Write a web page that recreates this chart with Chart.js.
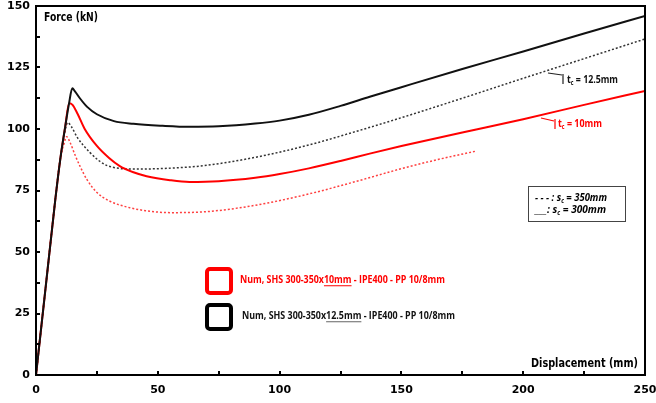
<!DOCTYPE html>
<html>
<head>
<meta charset="utf-8">
<script src="https://cdn.jsdelivr.net/npm/chart.js@4.4.1/dist/chart.umd.min.js"></script>
<style>
  html, body { margin: 0; padding: 0; background: #fff; }
  #wrap { width: 656px; height: 403px; }
</style>
</head>
<body>
<div id="wrap"><canvas id="chart" width="656" height="403"></canvas></div>
<script>
// SHS 300-350x12.5mm, s_c = 300mm (solid black)
var blackSolidX = [0, 4, 8, 10, 12, 13.5, 14.9, 16, 18, 21, 25, 32, 40, 52, 63, 75, 90, 100, 112, 125, 137, 150, 175, 200, 225, 250];
var blackSolidY = [0, 36, 72, 88, 101, 110, 116.6, 115.3, 112.5, 109, 106, 103.2, 102.1, 101.3, 100.9, 101.1, 102.2, 103.4, 105.8, 109.4, 113.1, 117, 124.4, 131.5, 138.8, 146];
// SHS 300-350x10mm, s_c = 300mm (solid red)
var redSolidX = [0, 4, 8, 10, 12, 13.6, 15, 17, 20, 25, 30, 34.4, 40, 45.4, 55, 63, 75, 90, 100, 112, 125, 137, 150, 175, 200, 225, 250];
var redSolidY = [0, 36, 72, 88, 101, 110.5, 109.8, 106.3, 100, 93.1, 88.2, 84.9, 82.4, 80.8, 79.2, 78.5, 78.8, 80.2, 81.7, 84, 87, 90, 93.1, 98.6, 104, 109.8, 115.5];
// SHS 300-350x12.5mm, s_c = 350mm (dotted black)
var blackDotX = [0, 4, 8, 10, 11.5, 13, 14.5, 17, 22.1, 26, 29, 34, 38.5, 48, 59, 67, 79.5, 95, 112, 130, 150, 175, 200, 225, 250];
var blackDotY = [0, 36, 72, 88, 97, 102.6, 101, 96.5, 90.5, 87, 85.2, 84, 83.7, 83.8, 84.3, 84.9, 86.6, 89.5, 93.5, 98.6, 104.6, 112.5, 120.6, 128.6, 136.6];
// SHS 300-350x10mm, s_c = 350mm (dotted red)
var redDotX = [0, 4, 8, 10, 11.5, 12.6, 14, 16, 18, 21, 24.9, 30, 38.5, 45, 55, 67, 79.5, 95, 112, 130, 149, 165, 180.6];
var redDotY = [0, 36, 72, 88, 94, 96.9, 94.5, 89.5, 85, 79.3, 74.3, 70.8, 68, 66.8, 66, 66.2, 67.4, 69.9, 73.6, 78.3, 83.6, 87.6, 91];

var xTickLabels = [0, 50, 100, 150, 200, 250];
var yTickLabels = [0, 25, 50, 75, 100, 125, 150];

function pts(xs, ys) {
    return xs.map(function(x, i) { return {x: x, y: ys[i]}; });
}

var TXT = '"Open Sans", "Liberation Sans", sans-serif';

// draws runs of text squeezed to a given total width: {t, sub, ul}
function runs(ctx, parts, x, y, size, style, color, width, ulColor, family) {
    family = family || TXT;
    function fnt(p) {
        return style + ' ' + (p.sub ? size * 0.6 : size).toFixed(2) + 'px ' + family;
    }
    var total = 0;
    parts.forEach(function(p) { ctx.font = fnt(p); total += ctx.measureText(p.t).width; });
    var k = width ? width / total : 1;
    ctx.save();
    ctx.translate(x, y);
    ctx.scale(k, 1);
    ctx.fillStyle = color;
    ctx.textBaseline = 'middle';
    ctx.textAlign = 'left';
    var cx = 0;
    parts.forEach(function(p) {
        ctx.font = fnt(p);
        var dy = p.sub ? size * 0.3 : 0;
        ctx.fillText(p.t, cx, dy);
        var w = ctx.measureText(p.t).width;
        if (p.ul) {
            ctx.fillStyle = ulColor || color;
            ctx.fillRect(cx, size * 0.5, w, 1);
            ctx.fillStyle = color;
        }
        cx += w;
    });
    ctx.restore();
}

var framePlugin = {
    id: 'frame',
    afterDraw: function(chart) {
        var ctx = chart.ctx, a = chart.chartArea;
        var xs = chart.scales.x, ys = chart.scales.y;
        ctx.save();
        ctx.strokeStyle = '#000';
        ctx.lineWidth = 2;
        ctx.strokeRect(a.left, a.top, a.right - a.left, a.bottom - a.top);
        // inward ticks
        ctx.beginPath();
        for (var v = 25; v < 250; v += 25) {
            var px = Math.round(xs.getPixelForValue(v));
            ctx.moveTo(px, a.bottom);
            ctx.lineTo(px, a.bottom - 4);
        }
        for (var u = 12.5; u < 150; u += 12.5) {
            var py = Math.round(ys.getPixelForValue(u));
            ctx.moveTo(a.left, py);
            ctx.lineTo(a.left + 4, py);
        }
        ctx.stroke();

        // axis titles
        var DV = '"DejaVu Sans", sans-serif';
        runs(ctx, [{t: 'Force (kN)'}], a.left + 8, a.top + 12, 11.5, 'bold', '#000', 54, null, DV);
        runs(ctx, [{t: 'Displacement (mm)'}], a.right - 114, a.bottom - 11, 11.5, 'bold', '#000', 107, null, DV);

        // legend squares
        ctx.lineWidth = 4;
        ctx.strokeStyle = '#ff0000';
        ctx.beginPath();
        ctx.roundRect(207, 269, 24, 24, 3);
        ctx.stroke();
        ctx.strokeStyle = '#000';
        ctx.beginPath();
        ctx.roundRect(207, 305, 24, 24, 3);
        ctx.stroke();

        runs(ctx, [{t: 'Num, SHS 300-350x'}, {t: '10mm', ul: true}, {t: ' - IPE400 - PP 10/8mm'}],
            240, 280, 10.5, 'bold', '#ff0000', 205);
        runs(ctx, [{t: 'Num, SHS 300-350x'}, {t: '12.5mm', ul: true}, {t: ' - IPE400 - PP 10/8mm'}],
            242, 316, 10.5, 'bold', '#111', 213, '#666');

        // s_c box
        ctx.lineWidth = 1;
        ctx.strokeStyle = '#444';
        ctx.strokeRect(528.5, 186.5, 97, 35);
        runs(ctx, [{t: '- - - : s'}, {t: 'c', sub: true}, {t: ' = 350mm'}], 535, 198, 11, 'italic bold', '#000', 72);
        runs(ctx, [{t: '___: s'}, {t: 'c', sub: true}, {t: ' = 300mm'}], 535, 210, 11, 'italic bold', '#000', 71);

        // t_c markers
        ctx.lineWidth = 1.2;
        ctx.strokeStyle = '#222';
        ctx.beginPath();
        ctx.moveTo(548, 73); ctx.lineTo(562, 75);
        ctx.moveTo(563, 74); ctx.lineTo(563, 84);
        ctx.stroke();
        runs(ctx, [{t: 't'}, {t: 'c', sub: true}, {t: ' = 12.5mm'}], 567, 80, 11, 'bold', '#111', 51);
        ctx.strokeStyle = '#ff0000';
        ctx.beginPath();
        ctx.moveTo(541, 118); ctx.lineTo(554, 121);
        ctx.moveTo(555, 119); ctx.lineTo(555, 129);
        ctx.stroke();
        runs(ctx, [{t: 't'}, {t: 'c', sub: true}, {t: ' = 10mm'}], 558, 124, 11, 'bold', '#ff0000', 44);
        ctx.restore();
    }
};

var tickFont = {family: '"DejaVu Sans", sans-serif', size: 11, weight: 'bold'};

new Chart(document.getElementById('chart').getContext('2d'), {
    type: 'line',
    data: {
        datasets: [
            {label: 'black 300', data: pts(blackSolidX, blackSolidY), borderColor: '#111', borderWidth: 2, order: 1},
            {label: 'red 300', data: pts(redSolidX, redSolidY), borderColor: '#ff0000', borderWidth: 2, order: 2},
            {label: 'black 350', data: pts(blackDotX, blackDotY), borderColor: '#333', borderWidth: 1.5, borderDash: [2, 2], order: 3},
            {label: 'red 350', data: pts(redDotX, redDotY), borderColor: '#ff4040', borderWidth: 1.5, borderDash: [2, 2], order: 4}
        ]
    },
    options: {
        responsive: false,
        animation: false,
        devicePixelRatio: 1,
        cubicInterpolationMode: 'monotone',
        elements: {point: {radius: 0}, line: {fill: false}},
        layout: {padding: {top: 6, right: 11, left: 0, bottom: 0}},
        plugins: {legend: {display: false}, tooltip: {enabled: false}},
        scales: {
            x: {
                type: 'linear', min: 0, max: 250,
                grid: {display: false, drawTicks: false},
                border: {display: false},
                ticks: {
                    stepSize: 25, autoSkip: false, maxRotation: 0, padding: 9,
                    color: '#000', font: tickFont,
                    callback: function(v) { return xTickLabels.indexOf(v) >= 0 ? String(v) : ''; }
                },
                afterFit: function(s) { s.height = 28; s.paddingLeft = 0; s.paddingRight = 0; }
            },
            y: {
                type: 'linear', min: 0, max: 150,
                grid: {display: false, drawTicks: false},
                border: {display: false},
                ticks: {
                    stepSize: 12.5, autoSkip: false, padding: 6,
                    color: '#000', font: tickFont,
                    callback: function(v) { return yTickLabels.indexOf(v) >= 0 ? String(v) : ''; }
                },
                afterFit: function(s) { s.width = 36; s.paddingTop = 0; s.paddingBottom = 0; }
            }
        }
    },
    plugins: [framePlugin]
});
</script>
</body>
</html>
